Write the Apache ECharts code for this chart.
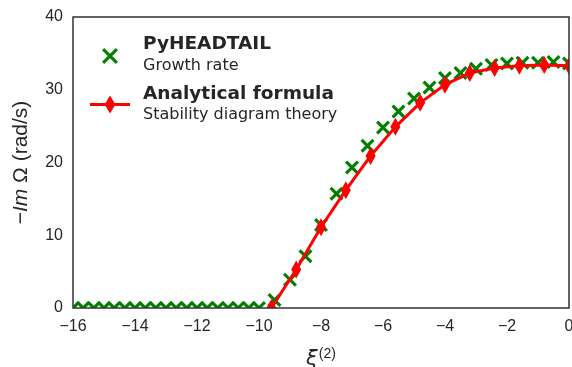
<!DOCTYPE html>
<html>
<head>
<meta charset="utf-8">
<title>Growth rate vs xi</title>
<script src="https://cdn.jsdelivr.net/npm/echarts@6/dist/echarts.min.js"></script>
<style>
  html, body { margin: 0; padding: 0; background: #fff; }
  #container { width: 572px; height: 367px; }
</style>
</head>
<body>
<div id="container"></div>
<script>
// PyHEADTAIL growth rate (green crosses)
var simXi = [-16, -15.67, -15.33, -15, -14.67, -14.33, -14, -13.67, -13.33, -13, -12.67, -12.33, -12,
             -11.67, -11.33, -11, -10.67, -10.33, -10,
             -9.5, -9, -8.5, -8, -7.5, -7, -6.5, -6, -5.5, -5, -4.5, -4, -3.5, -3, -2.5, -2, -1.5, -1, -0.5, 0];
var simRate = [0, 0, 0, 0, 0, 0, 0, 0, 0, 0, 0, 0, 0,
               0, 0, 0, 0, 0, 0,
               1.1, 3.9, 7.1, 11.4, 15.7, 19.3, 22.3, 24.8, 27.0, 28.8, 30.3, 31.6, 32.3, 32.9, 33.4, 33.6, 33.7, 33.7, 33.8, 33.6];

// analytical formula, stability diagram theory (red diamonds)
var theoXi = [-9.6, -8.8, -8.0, -7.2, -6.4, -5.6, -4.8, -4.0, -3.2, -2.4, -1.6, -0.8, 0];
var theoRate = [0, 5.3, 11.1, 16.2, 20.9, 24.9, 28.2, 30.7, 32.3, 33.0, 33.3, 33.4, 33.3];

var xTicks = [-16, -14, -12, -10, -8, -6, -4, -2, 0];
var yTicks = [0, 10, 20, 30, 40];

var GREEN = '#008000', RED = '#ff0000';
var crossD = 'M1.6,0 L5,3.4 L8.4,0 L10,1.6 L6.6,5 L10,8.4 L8.4,10 L5,6.6 L1.6,10 L0,8.4 L3.4,5 L0,1.6 Z';
// legend icons drawn in a 40x18 box (zero-area corners keep the cross at 14px)
var crossIcon = 'path://M0,0 Z M40,18 Z M14.2,2 L20,7.8 L25.8,2 L28,4.2 L22.2,10 L28,15.8 L25.8,18 L20,12.2 L14.2,18 L12,15.8 L17.8,10 L12,4.2 Z';
var lineIcon = 'path://M0,7.5 L15.5,7.5 L20,0 L24.5,7.5 L40,7.5 L40,10.5 L24.5,10.5 L20,18 L15.5,10.5 L0,10.5 Z';

var G = { left: 73, top: 17, right: 569, bottom: 308, w: 572, h: 367 };

function zip(a, b) {
  return a.map(function (v, i) { return [v, b[i]]; });
}

// markers drawn by custom series so they get cut at the frame (clip: true)
function crossItem(params, api) {
  var p = api.coord([api.value(0), api.value(1)]);
  return { type: 'path', shape: { pathData: crossD, x: p[0] - 7, y: p[1] - 7, width: 14, height: 14 }, style: { fill: GREEN } };
}
function diamondItem(params, api) {
  var p = api.coord([api.value(0), api.value(1)]);
  return { type: 'polygon', shape: { points: [[p[0], p[1] - 9], [p[0] + 5, p[1]], [p[0], p[1] + 9], [p[0] - 5, p[1]]] }, style: { fill: RED } };
}

var chart = echarts.init(document.getElementById('container'));
var tickFont = { fontFamily: 'Liberation Sans', fontSize: 16, color: '#262626' };

chart.setOption({
  animation: false,
  grid: { left: G.left, right: G.w - G.right, top: G.top, bottom: G.h - G.bottom, outerBoundsMode: 'none' },
  graphic: [{
    type: 'rect', silent: true, z: 60,
    shape: { x: G.left, y: G.top, width: G.right - G.left, height: G.bottom - G.top },
    style: { fill: null, stroke: '#333', lineWidth: 1.5 }
  }],
  legend: {
    orient: 'vertical',
    left: 90, top: 35, padding: 0,
    itemWidth: 40, itemHeight: 18, itemGap: 11,
    data: [
      { name: 'PyHEADTAIL', icon: crossIcon },
      { name: 'Analytical formula', icon: lineIcon }
    ],
    formatter: function (n) {
      return n === 'PyHEADTAIL'
        ? '{b|PyHEADTAIL}\n{n|Growth rate}'
        : '{b|Analytical formula}\n{n|Stability diagram theory}';
    },
    textStyle: {
      padding: [0, 0, 0, 8],
      rich: {
        b: { fontFamily: 'DejaVu Sans', fontWeight: 'bold', fontSize: 18.5, color: '#262626', lineHeight: 21 },
        n: { fontFamily: 'DejaVu Sans', fontSize: 16, color: '#262626', lineHeight: 21 }
      }
    }
  },
  xAxis: {
    type: 'value', min: -16, max: 0, interval: 2,
    axisLine: { show: false },
    axisTick: { show: false },
    splitLine: { show: false },
    axisLabel: Object.assign({ margin: 11, formatter: function (v) { return xTicks.indexOf(v) >= 0 ? String(v).replace('-', '\u2212') : ''; } }, tickFont),
    name: '{x|\u03be}{s|(2)}',
    nameLocation: 'middle',
    nameGap: 39,
    nameTextStyle: {
      rich: {
        x: { fontFamily: 'DejaVu Sans', fontStyle: 'italic', fontSize: 21, color: '#262626' },
        s: { fontFamily: 'Liberation Sans', fontSize: 14, color: '#262626', padding: [0, 0, 12, 1] }
      }
    }
  },
  yAxis: {
    type: 'value', min: 0, max: 40, interval: 10,
    axisLine: { show: false },
    axisTick: { show: false },
    splitLine: { show: false },
    axisLabel: Object.assign({ margin: 10, padding: [4, 0, 0, 0], formatter: function (v) { return yTicks.indexOf(v) >= 0 ? String(v) : ''; } }, tickFont),
    name: '{a|\u2212}{i|Im}{a| \u03a9 (rad/s)}',
    nameLocation: 'middle',
    nameRotate: 90,
    nameGap: 41,
    nameTextStyle: {
      rich: {
        a: { fontFamily: 'Liberation Sans', fontSize: 21, color: '#262626' },
        i: { fontFamily: 'Liberation Sans', fontStyle: 'italic', fontSize: 21, color: '#262626' }
      }
    }
  },
  series: [
    {
      name: 'PyHEADTAIL',
      type: 'custom',
      data: zip(simXi, simRate),
      renderItem: crossItem,
      clip: true,
      itemStyle: { color: GREEN },
      z: 2
    },
    {
      name: 'Analytical formula',
      type: 'line',
      data: zip(theoXi, theoRate),
      symbol: 'none',
      clip: true,
      lineStyle: { color: RED, width: 3 },
      itemStyle: { color: RED },
      z: 3
    },
    {
      name: 'Analytical formula',
      type: 'custom',
      data: zip(theoXi, theoRate),
      renderItem: diamondItem,
      clip: true,
      itemStyle: { color: RED },
      z: 4
    }
  ]
});
</script>
</body>
</html>
